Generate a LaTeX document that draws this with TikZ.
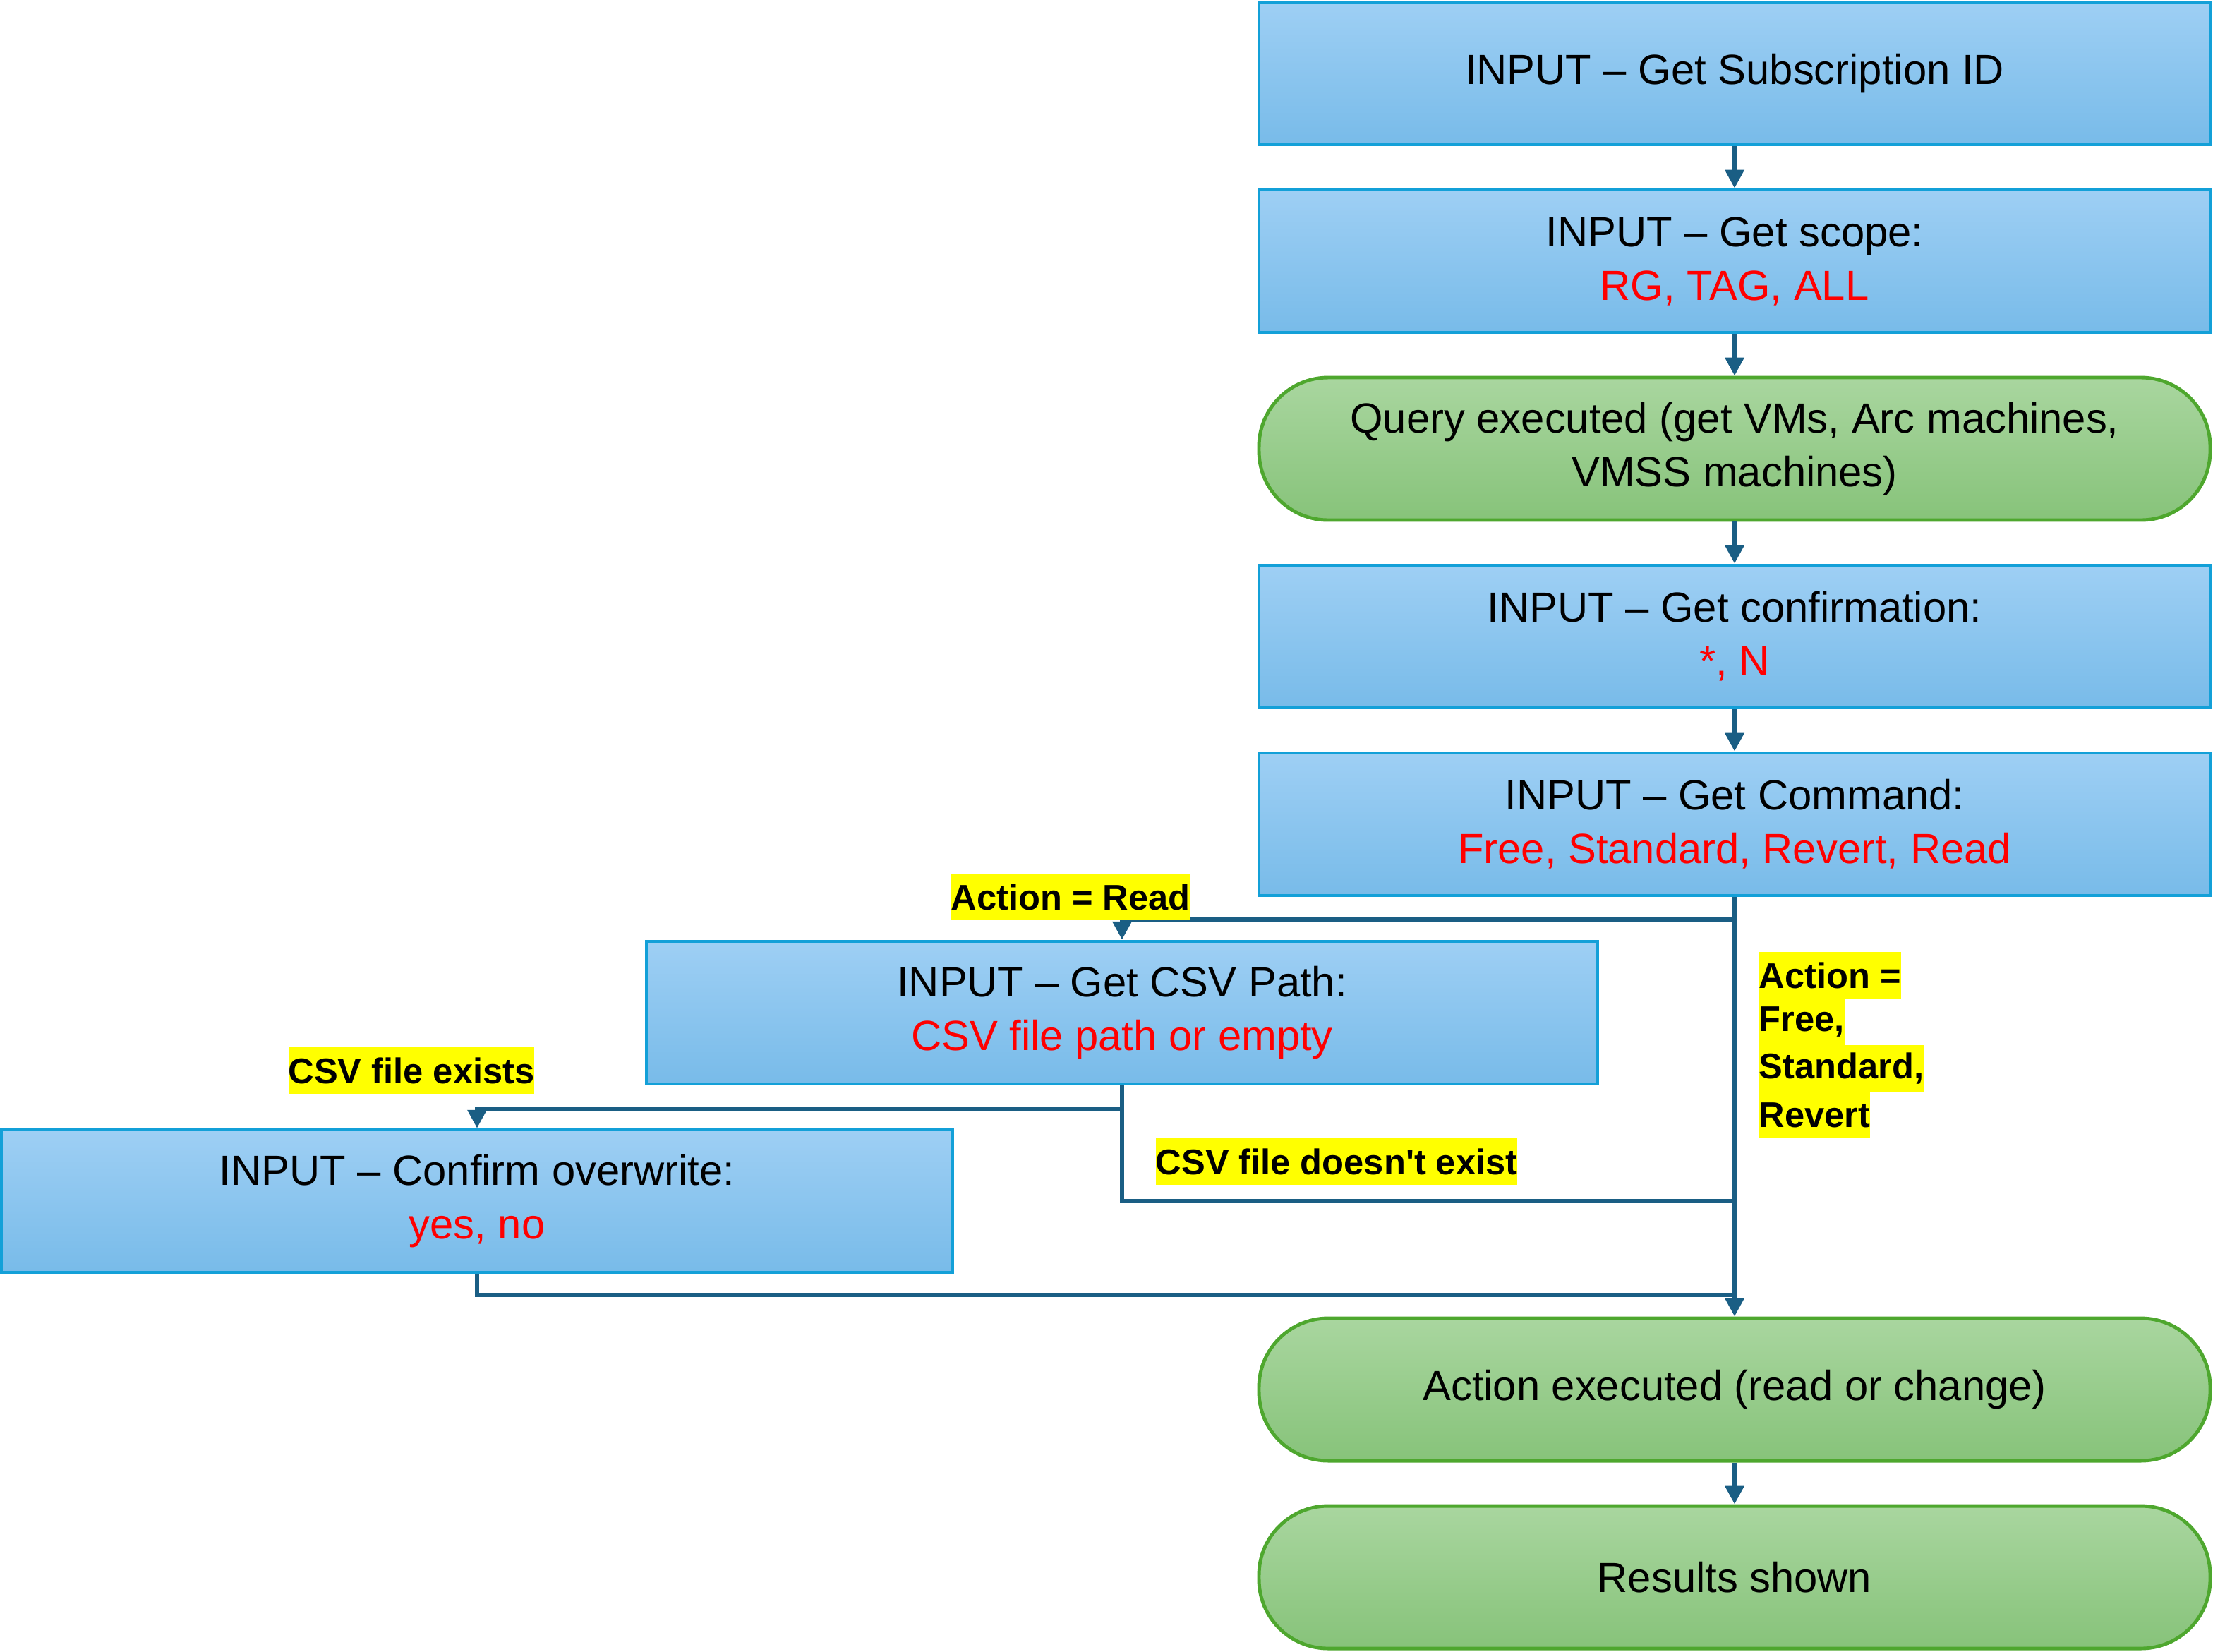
\documentclass[tikz,border=0pt]{standalone}
\usepackage{fontspec}
\setmainfont{Liberation Sans}[Ligatures=TeXOff]
\usetikzlibrary{arrows.meta}
\definecolor{bluefillT}{HTML}{9ECFF4}
\definecolor{bluefillB}{HTML}{78BBE9}
\definecolor{blueborder}{HTML}{13A0D8}
\definecolor{greenfillT}{HTML}{A9D69F}
\definecolor{greenfillB}{HTML}{87C37A}
\definecolor{greenborder}{HTML}{4EA72E}
\definecolor{conncol}{HTML}{1A5E84}
\definecolor{hl}{HTML}{FFFF00}
\definecolor{redtxt}{HTML}{FF0000}
\tikzset{
  inbox/.style={rectangle, draw=blueborder, line width=1.3pt, top color=bluefillT, bottom color=bluefillB,
    minimum width=13.48cm, minimum height=2.02cm, inner sep=0pt, align=center,
    font=\fontsize{17}{21.6}\selectfont},
  procbox/.style={rectangle, rounded corners=0.98cm, draw=greenborder, line width=1.4pt, top color=greenfillT, bottom color=greenfillB,
    minimum width=13.48cm, minimum height=2.02cm, inner sep=0pt, align=center,
    font=\fontsize{17}{21.6}\selectfont},
  lbl/.style={fill=hl, inner xsep=0pt, inner ysep=0pt, minimum height=0.66cm,
    font=\bfseries\fontsize{14.4}{18}\selectfont},
  conn/.style={draw=conncol, line width=1.9pt, -{Triangle[length=0.26cm,width=0.26cm]}},
  lineonly/.style={draw=conncol, line width=1.9pt}
}
\begin{document}
\begin{tikzpicture}
\useasboundingbox (0,0) rectangle (31.36,-23.40);
% main column
\node[inbox] (b1) at (24.58,-1.04) {INPUT – Get Subscription ID};
\node[inbox] (b2) at (24.58,-3.70) {INPUT – Get scope:\\\textcolor{redtxt}{RG, TAG, ALL}};
\node[procbox] (b3) at (24.58,-6.36) {Query executed (get VMs, Arc machines,\\VMSS machines)};
\node[inbox] (b4) at (24.58,-9.02) {INPUT – Get confirmation:\\\textcolor{redtxt}{*, N}};
\node[inbox] (b5) at (24.58,-11.68) {INPUT – Get Command:\\\textcolor{redtxt}{Free, Standard, Revert, Read}};
\node[inbox] (csv) at (15.90,-14.35) {INPUT – Get CSV Path:\\\textcolor{redtxt}{CSV file path or empty}};
\node[inbox] (conf) at (6.76,-17.02) {INPUT – Confirm overwrite:\\\textcolor{redtxt}{yes, no}};
\node[procbox] (ae) at (24.58,-19.69) {Action executed (read or change)};
\node[procbox] (rs) at (24.58,-22.35) {Results shown};

% junctions
\coordinate (jr) at (24.58,-13.03);
\coordinate (jd) at (24.58,-17.02);
\coordinate (jc) at (24.58,-18.35);

% connectors
\draw[conn] (b1) -- (b2);
\draw[conn] (b2) -- (b3);
\draw[conn] (b3) -- (b4);
\draw[conn] (b4) -- (b5);
\draw[conn] (b5.south) -- (ae.north);
\draw[conn] (jr) -| (csv.north);
\draw[conn] (csv.south) -- ++(0,-0.33) -| (conf.north);
\draw[lineonly] (csv.south) |- (jd);
\draw[lineonly] (conf.south) |- (jc);
\draw[conn] (ae) -- (rs);

% labels
\node[lbl] (lread) at (15.17,-12.71) {Action = Read};
\node[lbl] (lexists) at (5.83,-15.17) {CSV file exists};
\node[lbl] (lnot) at (18.94,-16.46) {CSV file doesn't exist};
\node[lbl, anchor=west] (la1) at (24.92,-13.82) {Action =\ };
\node[lbl, anchor=west] (la2) at (24.92,-14.48) {Free,};
\node[lbl, anchor=west] (la3) at (24.92,-15.14) {Standard,\ };
\node[lbl, anchor=west] (la4) at (24.92,-15.80) {Revert};
\end{tikzpicture}
\end{document}
